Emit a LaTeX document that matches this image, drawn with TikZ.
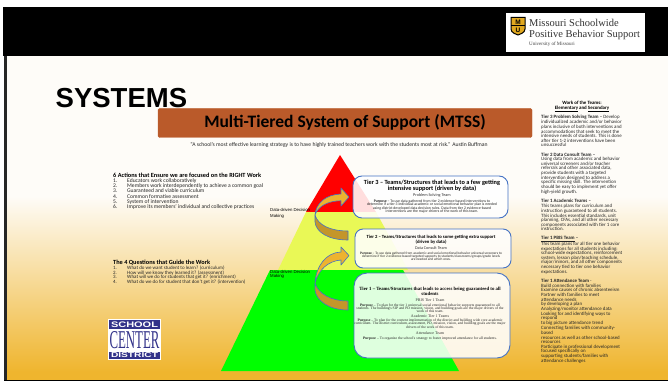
\documentclass[tikz,border=0pt]{standalone}
\usepackage{fontspec}
\usepackage{graphicx}
\setmainfont{Carlito}
\newfontfamily\arialf{Liberation Sans}
\newfontfamily\timesf{Liberation Serif}
\definecolor{cream}{HTML}{FEFCF8}
\definecolor{goldbg}{HTML}{EFB52E}
\definecolor{titlebox}{HTML}{BA5A2A}
\definecolor{boxblue}{HTML}{4472C4}
\definecolor{triyellow}{HTML}{E9F856}
\definecolor{arrowlight}{HTML}{EDB32F}
\definecolor{arrowdark}{HTML}{C4962A}
\definecolor{logoblue}{HTML}{33338A}
\definecolor{mugold}{HTML}{E0A820}
\newcommand\rl[2]{\node[rtext] (r#1) at (541,#1) {#2};}
\newcommand\tl[4]{\node[#1] (t#2) at (#3,#2) {#4};}
\tikzset{
  rtext/.style={anchor=west,inner sep=0,font=\fontsize{4.9}{5}\selectfont,text=black!85},
  ltext/.style={anchor=west,inner sep=0,font=\fontsize{5.6}{5}\selectfont,text=black!85},
  lsmall/.style={anchor=west,inner sep=0,font=\fontsize{4.95}{5}\selectfont,text=black!85},
  lhead/.style={anchor=west,inner sep=0,font=\bfseries\fontsize{6.3}{6}\selectfont},
  tierbox/.style={draw=boxblue,line width=0.9pt,fill=white,fill opacity=0.87,rounded corners=#1},
  ttitle/.style={inner sep=0,font=\bfseries\fontsize{6.3}{6}\selectfont},
  ttitles/.style={inner sep=0,font=\bfseries\fontsize{4.7}{5}\selectfont},
  tsub/.style={inner sep=0,font=\fontsize{4.2}{5}\selectfont,text=black!80},
  tpur/.style={inner sep=0,font=\fontsize{3.8}{4}\selectfont,text=black!85},
  tpurs/.style={inner sep=0,font=\fontsize{3.5}{4}\selectfont,text=black!85},
  ftitle/.style={inner sep=0,font=\timesf\bfseries\fontsize{4.8}{5}\selectfont},
  fsub/.style={inner sep=0,font=\timesf\fontsize{4}{5}\selectfont,text=black!80},
  fpur/.style={inner sep=0,font=\timesf\fontsize{3.7}{4}\selectfont,text=black!85},
  ddm/.style={anchor=west,inner sep=0,font=\arialf\fontsize{4.3}{5}\selectfont,align=left},
  curveup/.style={fill=arrowlight,draw=boxblue,line width=0.6pt,line join=round},
  curvedn/.style={fill=arrowdark,draw=boxblue,line width=0.6pt,line join=round}
}
\begin{document}
\begin{tikzpicture}[x=1pt,y=-1pt]
\useasboundingbox (0,0) rectangle (668,382);
% page and background
\fill[white] (0,0) rectangle (668,382);
\fill[cream] (6,56) rectangle (668,196);
\shade[top color=cream,bottom color=goldbg] (6,196) rectangle (668,372);
\fill[goldbg] (6,372) rectangle (668,380);
\fill[black] (3,7) rectangle (668,56);
\fill[black!85] (4,56) rectangle (7,381);
\fill[black] (4,380) rectangle (668,381.3);
% Missouri logo
\fill[white] (506,13) rectangle (645,52);
\draw[black,line width=1pt,fill=mugold] (511,17.5) -- (525,17.5) -- (525,29) .. controls (525,33) and (520,34) .. (518,35) .. controls (516,34) and (511,33) .. (511,29) -- cycle;
\fill[black] (511,25.5) rectangle (525,26.5);
\node[inner sep=0,font=\arialf\bfseries\fontsize{6.5}{6}\selectfont] (mum) at (518,22) {M};
\node[inner sep=0,font=\arialf\bfseries\fontsize{6.5}{6}\selectfont] (muu) at (518,30) {U};
\node[anchor=west,inner sep=0,font=\timesf\fontsize{10.5}{12}\selectfont,text=black!80] (mo1) at (529,22.5) {Missouri Schoolwide};
\node[anchor=west,inner sep=0,font=\timesf\fontsize{10.5}{12}\selectfont,text=black!80] (mo3) at (529,35) {Positive Behavior Support};
\node[anchor=west,inner sep=0,font=\timesf\fontsize{5}{6}\selectfont,text=black!75] (mo4) at (529,44.5) {University of Missouri};
% heading
\node[anchor=west,inner sep=0,font=\arialf\bfseries\fontsize{27.5}{27}\selectfont] (sys) at (55.5,98) {SYSTEMS};
\draw[titlebox,fill=titlebox,rounded corners=1.5] (158,108.5) rectangle (532,137.5);
\node[inner sep=0,font=\bfseries\fontsize{17.5}{17}\selectfont] (title) at (345,122) {Multi-Tiered System of Support (MTSS)};
\node[inner sep=0,font=\fontsize{5.65}{6}\selectfont,text=black!85] (quote) at (339,145) {``A school's most effective learning strategy is to have highly trained teachers work with the students most at risk.'' Austin Buffman};
% pyramid
\fill[red] (340,155) -- (306,212) -- (376,212) -- cycle;
\fill[triyellow] (306,212) -- (278,270) -- (408,270) -- (376,212) -- cycle;
\fill[green] (270,270) -- (221,371) -- (459,371) -- (403,270) -- cycle;
% left lists
\node[lhead] (h6) at (113,175) {6 Actions that Ensure we are focused on the RIGHT Work};
\foreach \y/\n/\t in {181/1/{Educators work collaboratively},186/2/{Members work interdependently to achieve a common goal},191/3/{Guaranteed and viable curriculum},197/4/{Common formative assessment},202/5/{System of intervention},207/6/{Improve its members' individual and collective practices}}{
  \node[ltext] (an\n) at (113,\y) {\n.};
  \node[ltext] (at\n) at (127,\y) {\t};
}
\node[lhead] (h4) at (113,263) {The 4 Questions that Guide the Work};
\foreach \y/\n/\t in {268/1/{What do we want student to learn? (curriculum)},273/2/{How will we know they learned it? (assessment)},277/3/{What will we do for students that get it? (enrichment)},282/4/{What do we do for student that don't get it? (intervention)}}{
  \node[lsmall] (qn\n) at (113,\y) {\n.};
  \node[lsmall] (qt\n) at (127,\y) {\t};
}
% school logo
\fill[white] (108,319) rectangle (161,360);
\fill[logoblue] (109,320) rectangle (160,328.5);
\fill[logoblue] (109,352) rectangle (160,359);
\node[inner sep=0,text=white] (sch) at (134.5,324.3) {\resizebox{47pt}{5.6pt}{\arialf\bfseries SCHOOL}};
\node[inner sep=0,text=logoblue] (cen) at (134.5,339.7) {\resizebox{50pt}{17pt}{\timesf CENTER}};
\node[inner sep=0,text=white] (dis) at (134.5,355.5) {\resizebox{47pt}{5pt}{\arialf\bfseries DISTRICT}};
% tier boxes
\draw[tierbox=9] (353,176) rectangle (508,218);
\draw[tierbox=8] (355,229) rectangle (511,268);
\draw[tierbox=13] (354,273) rectangle (510,358);
% Tier 3 text
\tl{ttitle}{183}{432}{Tier 3 – Teams/Structures that leads to a few getting}
\tl{ttitle}{188.5}{432}{intensive support (driven by data)}
\tl{tsub}{195}{432}{Problem Solving Team}
\tl{tpur}{201.3}{432}{\textbf{Purpose} – To use data gathered from tier 2 evidence-based interventions to}
\tl{tpur}{204.9}{432}{determine if a tier 3 individual academic or social emotional behavior plan is needed}
\tl{tpur}{208.7}{432}{using district developed data decision rules. Data from tier 2 evidence-based}
\tl{tpur}{212}{432}{interventions are the major drivers of the work of this team.}
% Tier 2 text
\tl{ttitles}{237}{431}{Tier 2 – Teams/Structures that leads to some getting extra support}
\tl{ttitles}{242}{431}{(driven by data)}
\tl{tsub}{248}{431}{Data Consult Team}
\tl{tpurs}{253.7}{431}{\textbf{Purpose} – To use data gathered from academic and social emotional behavior universal screeners to}
\tl{tpurs}{256.4}{431}{determine if tier 2 evidence-based targeted supports to students/classrooms/groups/grade levels}
\tl{tpurs}{259}{431}{are needed and which ones.}
% Tier 1 text
\tl{ftitle}{289.3}{430}{Tier 1 – Teams/Structures that leads to access being guaranteed to all}
\tl{ftitle}{293.5}{430}{students}
\tl{fsub}{300}{430}{PBIS Tier 1 Team}
\tl{fpur}{305.3}{430}{\textbf{Purpose} – To plan for the tier 1 universal social emotional behavior supports guaranteed to all}
\tl{fpur}{308.2}{430}{students. The building's SIP and PD mission, vision, and building goals are the major drivers of the}
\tl{fpur}{311}{430}{work of this team.}
\tl{fsub}{316}{430}{Academic Tier 1 Teams}
\tl{fpur}{321}{430}{\textbf{Purpose} – To plan for the content implementation of the district and building wide core academic}
\tl{fpur}{324}{430}{curriculum. The district curriculum, assessment, PD, mission, vision, and building goals are the major}
\tl{fpur}{327}{430}{drivers of the work of this team.}
\tl{fsub}{333}{430}{Attendance Team}
\tl{fpur}{339}{430}{\textbf{Purpose} – To organize the school's strategy to foster improved attendance for all students.}
% curved arrows
\draw[curvedn] (315,215) .. controls (318,225) and (330,231) .. (348,231) -- (348,240) .. controls (328,240) and (316,232) .. (315,222) -- cycle;
\draw[curveup] (315,215) .. controls (316,203) and (326,194.5) .. (341,194) -- (341,188) -- (349,197) -- (341,206) -- (341,200.7) .. controls (328,201) and (318,206) .. (315,215) -- cycle;
\draw[curvedn] (315,283.3) .. controls (318,293) and (330,301) .. (348,301) -- (348,310) .. controls (328,310) and (316,300) .. (315,290) -- cycle;
\draw[curveup] (315,283.3) .. controls (316,266) and (326,252.5) .. (341,252) -- (341,247) -- (349,255.5) -- (341,265) -- (341,260) .. controls (328,261) and (318,270) .. (315,283.3) -- cycle;
% decision labels
\node[ddm] (dd1) at (270,210) {Data-driven Decision};
\node[ddm] (dd1b) at (270,216) {Making};
\node[ddm] (dd2) at (270,271.5) {Data-driven Decision};
\node[ddm] (dd2b) at (270,276.5) {Making};
% right column
\node[inner sep=0,font=\bfseries\fontsize{4.9}{5}\selectfont] (wt) at (582,103) {Work of the Teams:};
\node[inner sep=0,font=\bfseries\fontsize{4.9}{5}\selectfont] (wt2) at (582,109) {\underline{Elementary} and \underline{Secondary}};
\rl{117.3}{\textbf{Tier 3 Problem Solving Team –} Develop}
\rl{122}{individualized academic and/or behavior}
\rl{127}{plans inclusive of both interventions and}
\rl{131.5}{accommodations that seek to meet the}
\rl{136}{intensive needs of students. This is done}
\rl{140.5}{after tier 1-2 interventions have been}
\rl{145}{unsuccessful}
\rl{154.3}{\textbf{Tier 2 Data Consult Team –}}
\rl{159.3}{Using data from academic and behavior}
\rl{164}{universal screeners and/or teacher}
\rl{168}{referrals and other associated data,}
\rl{173}{provide students with a targeted}
\rl{178}{intervention designed to address a}
\rl{182}{specific missing skill. The intervention}
\rl{187}{should be easy to implement yet offer}
\rl{192}{high-yield growth.}
\rl{201}{\textbf{Tier 1 Academic Teams –}}
\rl{206}{This teams plans for curriculum and}
\rl{211}{instruction guaranteed to all students.}
\rl{216}{This includes essential standards, unit}
\rl{220}{planning, CFAs, and all other necessary}
\rl{225}{components associated with tier 1 core}
\rl{229}{instruction.}
\rl{239}{\textbf{\underline{Tier 1 PBIS Team} –}}
\rl{244}{This team plans for all tier one behavior}
\rl{249}{expectations for all students including:}
\rl{253}{school-wide expectations, reinforcement}
\rl{258}{system, lesson plan/teaching schedule,}
\rl{262}{major/minors, and all other components}
\rl{267}{necessary tied to tier one behavior}
\rl{272}{expectations.}
\rl{281}{\textbf{Tier 1 Attendance Team} -}
\rl{286}{Build connection with families}
\rl{290}{Examine causes of chronic absenteeism}
\rl{295}{Partner with families to meet}
\rl{300}{attendance needs}
\rl{304}{by developing a plan}
\rl{309}{Analyzing/monitor attendance data}
\rl{314}{Looking for and identifying ways to}
\rl{318}{respond}
\rl{323}{to big picture attendance trend}
\rl{328}{Connecting families with community-}
\rl{333}{based}
\rl{338}{resources as well as other school-based}
\rl{342}{resources}
\rl{347}{Participate in professional development}
\rl{351}{focused specifically on}
\rl{356}{supporting students/families with}
\rl{361}{attendance challenges}
\end{tikzpicture}
\end{document}
